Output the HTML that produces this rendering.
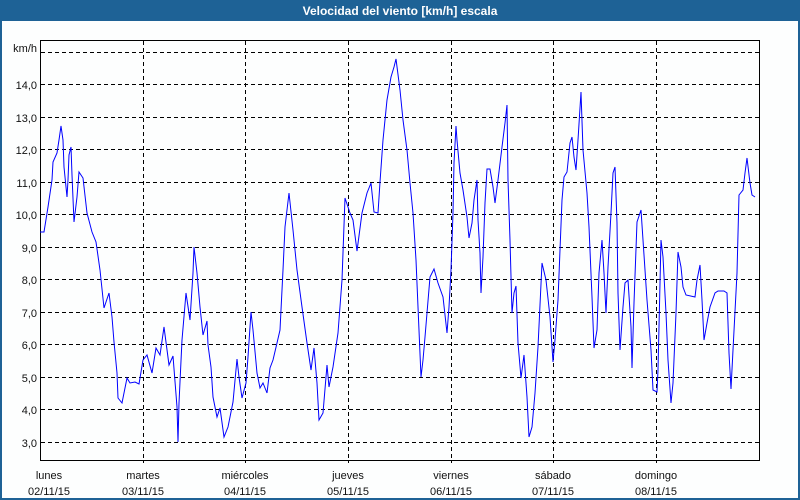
<!DOCTYPE html>
<html><head><meta charset="utf-8"><style>
html,body{margin:0;padding:0;background:#fff;}
svg{display:block;}
text{font-family:"Liberation Sans",sans-serif;}
</style></head><body>
<svg width="800" height="500" viewBox="0 0 800 500" xmlns="http://www.w3.org/2000/svg">
<rect x="0" y="0" width="800" height="500" fill="#fdfefe"/>
<rect x="0" y="0" width="800" height="21" fill="#1e6296"/>
<rect x="0" y="0" width="2" height="500" fill="#1e6296"/>
<rect x="798" y="0" width="2" height="500" fill="#1e6296"/>
<rect x="0" y="498" width="800" height="2" fill="#1e6296"/>
<text x="400" y="15" fill="#fff" font-size="12" font-weight="bold" text-anchor="middle">Velocidad del viento [km/h] escala</text>
<g stroke="#000" stroke-width="1" stroke-dasharray="4,3" fill="none">
<line x1="41" y1="52.5" x2="760" y2="52.5"/>
<line x1="41" y1="84.5" x2="760" y2="84.5"/>
<line x1="41" y1="117.5" x2="760" y2="117.5"/>
<line x1="41" y1="149.5" x2="760" y2="149.5"/>
<line x1="41" y1="182.5" x2="760" y2="182.5"/>
<line x1="41" y1="214.5" x2="760" y2="214.5"/>
<line x1="41" y1="247.5" x2="760" y2="247.5"/>
<line x1="41" y1="279.5" x2="760" y2="279.5"/>
<line x1="41" y1="312.5" x2="760" y2="312.5"/>
<line x1="41" y1="344.5" x2="760" y2="344.5"/>
<line x1="41" y1="377.5" x2="760" y2="377.5"/>
<line x1="41" y1="409.5" x2="760" y2="409.5"/>
<line x1="41" y1="442.5" x2="760" y2="442.5"/>
<line x1="143.5" y1="41" x2="143.5" y2="463"/>
<line x1="245.5" y1="41" x2="245.5" y2="463"/>
<line x1="348.5" y1="41" x2="348.5" y2="463"/>
<line x1="451.5" y1="41" x2="451.5" y2="463"/>
<line x1="553.5" y1="41" x2="553.5" y2="463"/>
<line x1="656.5" y1="41" x2="656.5" y2="463"/>
</g>
<rect x="40.5" y="40.5" width="719" height="420" fill="none" stroke="#000" stroke-width="1"/>
<polyline fill="none" stroke="#0000ff" stroke-width="1" points="40,232 44,232 48,207 52,180 53,162 57,153 59,140 61,126 63,140 64,167 67,197 68,180 69,155 71,147 72,175 74,222 77,197 79,172 83,178 87,213 92,232 96,242 100,270 104,308 109,293 112,317 114,342 117,373 118,398 122,403 127,378 130,383 135,382 139,384 143,360 147,355 152,373 156,348 160,355 164,327 169,365 173,356 177,407 178,442 179,403 182,340 186,293 190,320 193,273 194,247 197,273 200,307 203,335 207,321 208,345 211,367 213,397 217,417 220,408 224,437 228,427 233,402 237,359 239,377 242,398 246,383 248,357 251,312 253,330 257,373 260,388 263,383 267,393 270,368 273,360 277,343 280,330 283,270 285,227 289,193 293,230 297,270 302,307 307,343 311,370 314,348 317,383 319,420 323,413 327,365 329,387 333,367 338,333 342,280 345,198 350,213 353,220 357,251 362,213 367,193 371,183 374,212 378,213 380,182 383,140 387,100 391,77 394,67 396,59 400,90 403,120 407,150 410,183 413,213 416,260 418,307 421,377 423,360 425,337 427,313 430,277 434,269 438,283 443,297 447,333 449,307 451,270 453,213 454,163 456,126 457,140 460,173 463,190 467,217 469,238 472,223 474,200 477,180 478,220 480,253 481,293 483,257 485,203 487,169 490,169 493,187 495,203 498,180 502,147 505,123 507,105 508,180 510,240 512,313 514,293 516,286 518,343 521,378 524,355 527,397 529,437 532,427 535,393 538,347 542,263 546,280 550,317 553,362 555,340 558,300 562,200 564,177 567,172 570,143 572,137 574,157 576,170 578,140 581,92 583,150 587,193 589,227 592,297 594,348 597,330 599,273 602,240 604,273 606,313 608,267 611,213 613,173 615,167 617,223 618,293 620,350 623,307 625,283 628,280 631,327 632,368 634,303 637,222 641,210 643,240 647,300 651,350 653,390 657,392 658,370 661,240 663,257 666,313 668,360 671,403 673,383 676,313 678,252 681,267 683,287 686,295 695,297 697,280 700,265 702,300 704,340 707,323 710,307 715,293 718,291 724,291 727,293 729,353 731,389 733,350 737,273 739,195 743,190 745,173 747,158 750,183 752,195 755,197"/>
<g font-size="11" fill="#111" text-anchor="end">
<text x="37" y="52">km/h</text>
<text x="37" y="89">14,0</text>
<text x="37" y="122">13,0</text>
<text x="37" y="154">12,0</text>
<text x="37" y="187">11,0</text>
<text x="37" y="219">10,0</text>
<text x="37" y="252">9,0</text>
<text x="37" y="284">8,0</text>
<text x="37" y="317">7,0</text>
<text x="37" y="349">6,0</text>
<text x="37" y="382">5,0</text>
<text x="37" y="414">4,0</text>
<text x="37" y="447">3,0</text>
</g>
<g font-size="11" fill="#111" text-anchor="middle">
<text x="49" y="479">lunes</text><text x="49" y="495">02/11/15</text>
<text x="143" y="479">martes</text><text x="143" y="495">03/11/15</text>
<text x="245" y="479">miércoles</text><text x="245" y="495">04/11/15</text>
<text x="348" y="479">jueves</text><text x="348" y="495">05/11/15</text>
<text x="451" y="479">viernes</text><text x="451" y="495">06/11/15</text>
<text x="553" y="479">sábado</text><text x="553" y="495">07/11/15</text>
<text x="656" y="479">domingo</text><text x="656" y="495">08/11/15</text>
</g>
</svg>
</body></html>
